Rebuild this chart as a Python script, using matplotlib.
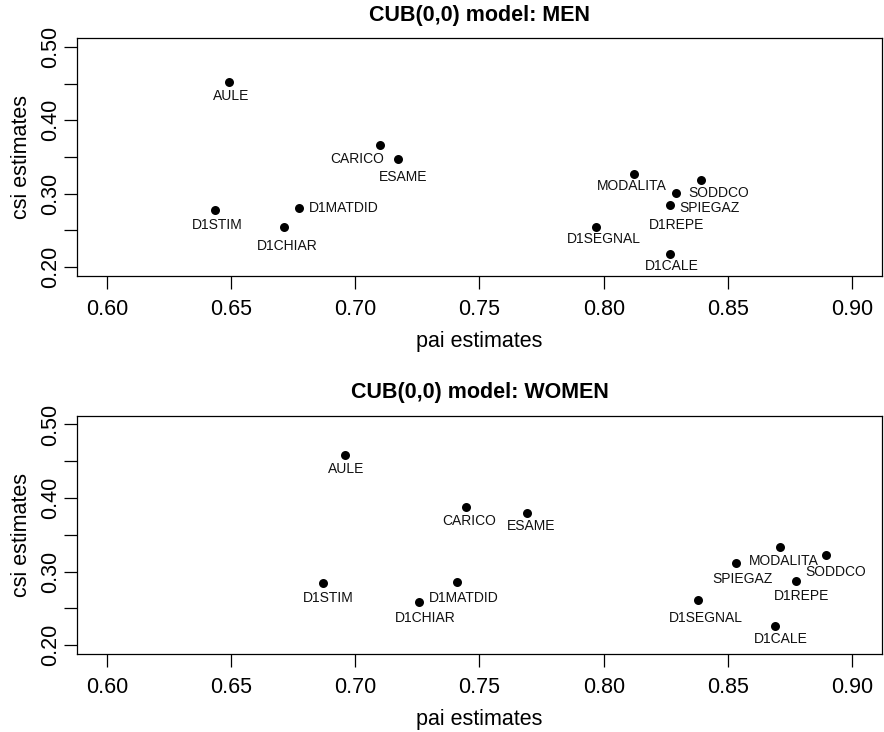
import matplotlib
matplotlib.use("Agg")
from matplotlib import pyplot as plt

plt.rcParams["font.family"] = ["Liberation Sans", "DejaVu Sans"]

# CUB(0,0) estimates per item
items = ["AULE", "CARICO", "ESAME", "D1STIM", "D1MATDID", "D1CHIAR",
         "MODALITA", "SODDCO", "SPIEGAZ", "D1REPE", "D1SEGNAL", "D1CALE"]

men_pai = [0.6493, 0.7099, 0.7173, 0.6434, 0.6773, 0.6714,
           0.8122, 0.8391, 0.8291, 0.8268, 0.7970, 0.8268]
men_csi = [0.4518, 0.3666, 0.3469, 0.2784, 0.2811, 0.2541,
           0.3266, 0.3185, 0.3014, 0.2847, 0.2545, 0.2176]

women_pai = [0.6960, 0.7445, 0.7690, 0.6870, 0.7408, 0.7255,
             0.8710, 0.8895, 0.8533, 0.8775, 0.8381, 0.8690]
women_csi = [0.4580, 0.3879, 0.3802, 0.2846, 0.2854, 0.2583,
             0.3328, 0.3220, 0.3111, 0.2877, 0.2610, 0.2257]

xticks = [0.60, 0.65, 0.70, 0.75, 0.80, 0.85, 0.90]
xtick_labels = ["0.60", "0.65", "0.70", "0.75", "0.80", "0.85", "0.90"]
yticks = [0.20, 0.25, 0.30, 0.35, 0.40, 0.45, 0.50]
ytick_labels = ["0.20", "", "0.30", "", "0.40", "", "0.50"]

# label offsets from each point, in pixels (dx, dy)
men_offsets = [(1.5, -14), (-23, -14.6), (5, -18), (3, -15.3), (45, 0), (3.4, -18.7),
               (-2.6, -11.7), (17.4, -13), (33.7, -15.3), (6, -19.7), (7.5, -12.3), (2, -11.7)]
women_offsets = [(1, -14), (3.5, -14), (4.7, -13), (5, -15), (7.5, -15.6), (6.3, -15.6),
                 (4, -13.3), (9.6, -16.6), (6.6, -15.3), (5.5, -15.7), (8, -17.6), (6, -12.6)]

fig = plt.figure(figsize=(8.84, 7.32), dpi=100)
ax_top = fig.add_axes([0.0871, 0.6230, 0.9106, 0.3251])
ax_bot = fig.add_axes([0.0871, 0.1066, 0.9106, 0.3256])


def draw_panel(ax, pai, csi, offsets, title):
    ax.scatter(pai, csi, s=42, color="black", zorder=3, linewidths=0)
    for name, x, y, (dx, dy) in zip(items, pai, csi, offsets):
        ax.annotate(name, (x, y), xytext=(dx, dy), textcoords="offset pixels",
                    ha="center", va="center", fontsize=10, color="#111111")
    ax.set_xlim(0.588, 0.912)
    ax.set_ylim(0.188, 0.512)
    ax.set_xticks(xticks)
    ax.set_xticklabels(xtick_labels)
    ax.set_yticks(yticks)
    ax.set_yticklabels(ytick_labels, rotation=90, va="center")
    ax.tick_params(length=9.7, width=0.9, labelsize=15.5, direction="out")
    ax.tick_params(axis="x", pad=7)
    ax.tick_params(axis="y", pad=1.5)
    ax.set_xlabel("pai estimates", fontsize=15.5, labelpad=8)
    ax.set_ylabel("csi estimates", fontsize=15.5, labelpad=6)
    ax.set_title(title, fontsize=15.5, fontweight="bold", pad=12.5)
    for sp in ax.spines.values():
        sp.set_linewidth(0.9)


draw_panel(ax_top, men_pai, men_csi, men_offsets, "CUB(0,0) model: MEN")
draw_panel(ax_bot, women_pai, women_csi, women_offsets, "CUB(0,0) model: WOMEN")

fig.savefig("out.png", dpi=100)
